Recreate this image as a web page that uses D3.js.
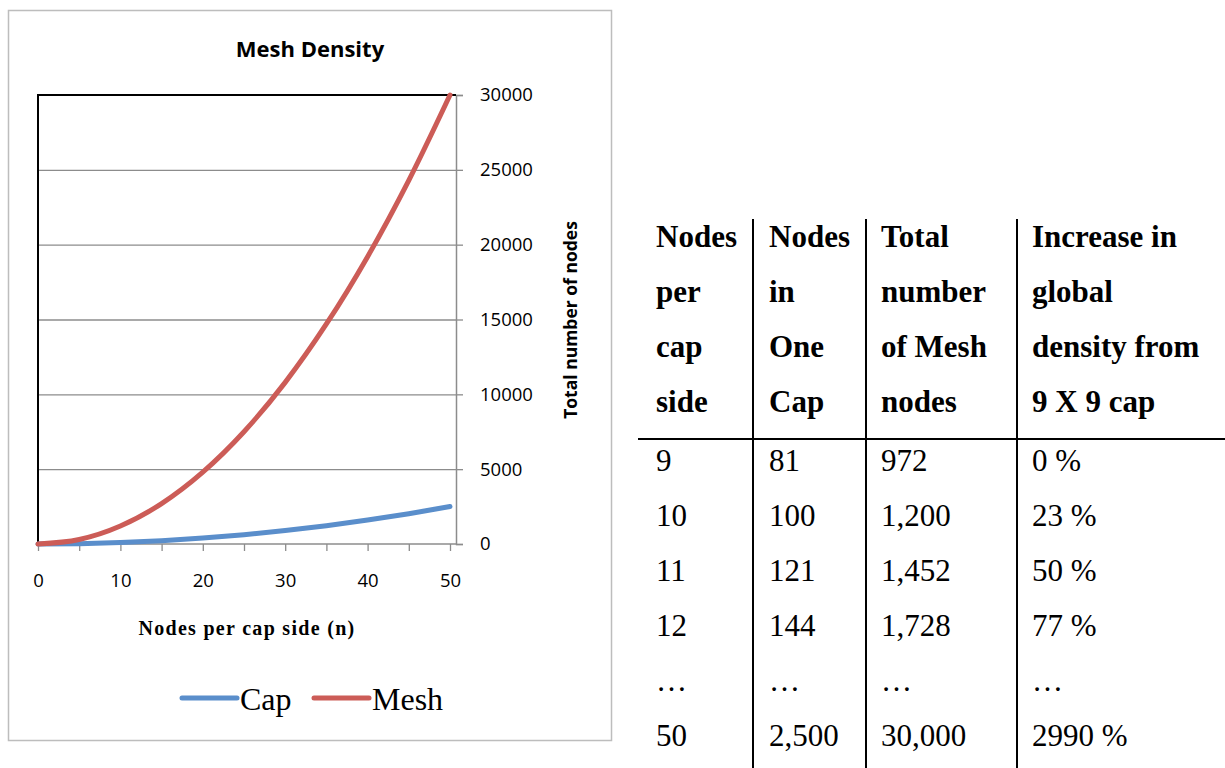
<!DOCTYPE html>
<html>
<head>
<meta charset="utf-8">
<script src="https://d3js.org/d3.v7.min.js"></script>
<style>
  body { margin: 0; background: #fff; }
  svg { display: block; }
</style>
</head>
<body>
<script>
// chart data
var nodesPerSide = [0, 5, 10, 15, 20, 25, 30, 35, 40, 45, 50];
var capNodes = [0, 25, 100, 225, 400, 625, 900, 1225, 1600, 2025, 2500];
var meshNodes = [0, 300, 1200, 2700, 4800, 7500, 10800, 14700, 19200, 24300, 30000];
var xTicks = [0, 10, 20, 30, 40, 50];
var xMinorTicks = [0, 5, 10, 15, 20, 25, 30, 35, 40, 45, 50];
var yTicks = [0, 5000, 10000, 15000, 20000, 25000, 30000];
var seriesNames = ["Cap", "Mesh"];

// table data
var tblHeader = [
  ["Nodes", "per", "cap", "side"],
  ["Nodes", "in", "One", "Cap"],
  ["Total", "number", "of Mesh", "nodes"],
  ["Increase in", "global", "density from", "9 X 9 cap"]
];
var tblSide = ["9", "10", "11", "12", "\u2026", "50"];
var tblCap = ["81", "100", "121", "144", "\u2026", "2,500"];
var tblMesh = ["972", "1,200", "1,452", "1,728", "\u2026", "30,000"];
var tblIncrease = ["0 %", "23 %", "50 %", "77 %", "\u2026", "2990 %"];

var colors = {Cap: "#5a8ecb", Mesh: "#cc5c57"};

var svg = d3.select("body").append("svg")
  .attr("width", 1225)
  .attr("height", 768);

/*
* chart frame
*/
svg.append("rect")
  .attr("x", 8.5).attr("y", 10.5)
  .attr("width", 603).attr("height", 730)
  .attr("fill", "none")
  .attr("stroke", "#bdbdbd")
  .attr("stroke-width", 1.5);

svg.append("text")
  .attr("x", 310).attr("y", 57)
  .attr("text-anchor", "middle")
  .style("font-family", "'Open Sans', sans-serif")
  .style("font-weight", "bold")
  .style("font-size", "22px")
  .text("Mesh Density");

var plot = {left: 38, right: 456, top: 95, bottom: 544};

var xscale = d3.scaleLinear()
  .domain([0, 50])
  .range([plot.left, 450]);

var yscale = d3.scaleLinear()
  .domain([0, 30000])
  .range([plot.bottom, plot.top]);

// gridlines
svg.append("g")
  .selectAll("line")
  .data(yTicks.slice(1, -1))
  .enter().append("line")
  .attr("x1", plot.left).attr("x2", plot.right)
  .attr("y1", function(d) { return yscale(d) + 0.5; })
  .attr("y2", function(d) { return yscale(d) + 0.5; })
  .attr("stroke", "#8c8c8c")
  .attr("stroke-width", 1.3);

// right axis
var yaxis = d3.axisRight(yscale)
  .tickValues(yTicks)
  .tickSize(7)
  .tickPadding(17)
  .tickFormat(d3.format("d"));
var gy = svg.append("g")
  .attr("transform", "translate(" + plot.right + ",0)")
  .call(yaxis);
gy.select(".domain").attr("stroke", "#8c8c8c").attr("stroke-width", 1.5);
gy.selectAll(".tick line").attr("stroke", "#8c8c8c").attr("stroke-width", 1.3);
gy.selectAll(".tick text")
  .style("font-family", "'Open Sans', sans-serif")
  .style("font-size", "18.5px")
  .attr("fill", "#000");

// bottom axis
var xaxis = d3.axisBottom(xscale)
  .tickValues(xMinorTicks)
  .tickSize(7)
  .tickPadding(23)
  .tickFormat(function(d) { return xTicks.indexOf(d) >= 0 ? d : ""; });
var gx = svg.append("g")
  .attr("transform", "translate(0," + plot.bottom + ")")
  .call(xaxis);
gx.select(".domain")
  .attr("d", "M" + plot.left + ",0H" + plot.right)
  .attr("stroke", "#8c8c8c").attr("stroke-width", 1.5);
gx.selectAll(".tick line").attr("stroke", "#8c8c8c").attr("stroke-width", 1.3);
gx.selectAll(".tick text")
  .style("font-family", "'Open Sans', sans-serif")
  .style("font-size", "18.5px")
  .attr("fill", "#000");

// black top and left border of the plot area
svg.append("path")
  .attr("d", "M" + plot.left + "," + plot.bottom + "V" + plot.top + "H" + plot.right)
  .attr("fill", "none")
  .attr("stroke", "#000")
  .attr("stroke-width", 2);

// axis titles
svg.append("text")
  .attr("transform", "translate(577,320) rotate(-90)")
  .attr("text-anchor", "middle")
  .style("font-family", "'Open Sans', sans-serif")
  .style("font-weight", "bold")
  .style("font-size", "17.5px")
  .text("Total number of nodes");

svg.append("text")
  .attr("x", 247).attr("y", 635)
  .attr("text-anchor", "middle")
  .style("font-family", "'Liberation Serif', serif")
  .style("font-weight", "bold")
  .style("font-size", "20px")
  .style("letter-spacing", "1.3px")
  .text("Nodes per cap side (n)");

// series lines
var line = d3.line()
  .x(function(d) { return xscale(d[0]); })
  .y(function(d) { return yscale(d[1]); })
  .curve(d3.curveMonotoneX);

var series = [
  {name: "Cap", values: d3.zip(nodesPerSide, capNodes)},
  {name: "Mesh", values: d3.zip(nodesPerSide, meshNodes)}
];

svg.selectAll("path.series")
  .data(series)
  .enter().append("path")
  .attr("class", "series")
  .attr("d", function(d) { return line(d.values); })
  .attr("fill", "none")
  .attr("stroke", function(d) { return colors[d.name]; })
  .attr("stroke-width", 5)
  .attr("stroke-linecap", "round");

// legend
var legendX = [182, 314];
var legend = svg.selectAll("g.legend")
  .data(seriesNames)
  .enter().append("g")
  .attr("class", "legend")
  .attr("transform", function(d, i) { return "translate(" + legendX[i] + ",698)"; });
legend.append("line")
  .attr("x1", 0).attr("x2", 55)
  .attr("stroke", function(d) { return colors[d]; })
  .attr("stroke-width", 5)
  .attr("stroke-linecap", "round");
legend.append("text")
  .attr("x", 58).attr("y", 12)
  .style("font-family", "'Liberation Serif', serif")
  .style("font-size", "32px")
  .text(function(d) { return d; });

/*
* table on the right
*/
var colX = [656, 769, 881, 1032];
var colLines = [753, 866, 1017];
var tbl = svg.append("g").attr("class", "table");

tbl.selectAll("line.col")
  .data(colLines)
  .enter().append("line")
  .attr("class", "col")
  .attr("x1", function(d) { return d; }).attr("x2", function(d) { return d; })
  .attr("y1", 219).attr("y2", 768)
  .attr("stroke", "#000").attr("stroke-width", 2);

tbl.append("line")
  .attr("x1", 638).attr("x2", 1225)
  .attr("y1", 439).attr("y2", 439)
  .attr("stroke", "#000").attr("stroke-width", 2);

tblHeader.forEach(function(lines, c) {
  tbl.selectAll("text.h" + c)
    .data(lines)
    .enter().append("text")
    .attr("class", "h" + c)
    .attr("x", colX[c])
    .attr("y", function(d, i) { return 247 + i * 55; })
    .style("font-family", "'Liberation Serif', serif")
    .style("font-weight", "bold")
    .style("font-size", "31px")
    .text(function(d) { return d; });
});

[tblSide, tblCap, tblMesh, tblIncrease].forEach(function(col, c) {
  tbl.selectAll("text.d" + c)
    .data(col)
    .enter().append("text")
    .attr("class", "d" + c)
    .attr("x", colX[c])
    .attr("y", function(d, i) { return 471 + i * 55; })
    .style("font-family", "'Liberation Serif', serif")
    .style("font-size", "31px")
    .text(function(d) { return d; });
});
</script>
</body>
</html>
